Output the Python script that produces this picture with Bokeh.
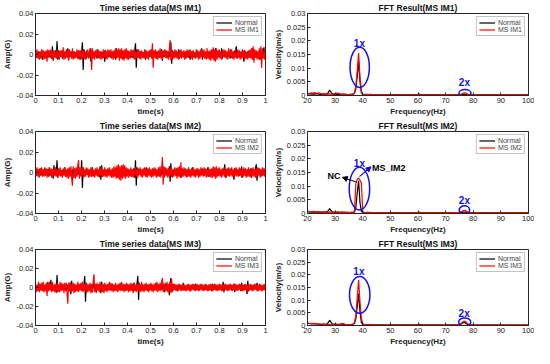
import numpy as np
from bokeh.plotting import figure
from bokeh.models import Range1d, FixedTicker, Label, Arrow, NormalHead
from bokeh.layouts import column, row
from bokeh.embed import file_html
from bokeh.resources import INLINE

# ---------------- data ----------------
# time series, 300 samples over 0..1 s (one line = 0.1 s), amplitude in mG (1e-3 G)
normal1_mg = [2,-3,1,-2,3,-2,2,-3,4,-5,3,-2,2,-3,1,-2,3,-2,2,-3,3,-4,8,-6,3,-2,4,-3,13,-5,
              4,-3,2,-2,3,-4,2,-3,2,-2,3,-2,6,-5,3,-2,2,-3,1,-2,3,-3,2,-2,3,-4,2,-3,4,-5,
              3,12,-15,5,-3,2,-4,3,-2,2,-3,6,-7,3,-2,2,-3,2,-2,3,-4,5,-3,2,-2,3,-2,2,-3,3,
              -7,4,-3,2,-2,3,-2,2,-3,2,-2,3,-3,2,-5,6,-3,2,-2,3,-2,2,-3,2,-2,3,-4,2,-3,2,
              -2,3,-2,2,-3,4,-3,2,-4,3,11,-13,5,-3,2,-2,3,-2,2,-3,2,-2,4,-5,3,-2,2,-3,2,-2,
              3,-2,2,-3,2,-2,3,-4,3,-2,2,-3,2,-2,5,-6,3,-2,2,-3,2,-2,3,-3,2,-2,12,-9,4,-3,
              2,-2,3,-2,2,-3,5,-4,2,-2,3,-2,2,-3,2,-2,3,-2,2,-3,4,-5,2,-2,3,-2,2,-3,2,-2,
              3,-2,2,-3,2,-2,6,-5,3,-2,2,-3,2,-2,3,-2,2,-3,3,-2,2,-3,2,-5,6,-3,2,-2,3,-2,
              2,-3,6,-4,2,-2,3,-2,2,-3,2,-2,3,-4,5,-3,2,-2,3,-2,2,8,-4,3,-2,2,-3,2,-2,3,
              -2,-7,4,-3,2,-2,3,-2,2,-3,2,-2,6,-5,3,-2,2,-3,2,-2,3,-5,4,-3,2,-2,3,7,-4,3]
msim1_mg = [4,-3,5,-4,2,-5,3,-4,5,-2,4,-5,3,-4,4,-7,5,-3,4,-2,5,-4,3,-5,4,-3,2,-4,5,-3,
            3,-5,4,-2,4,-3,7,-5,3,-4,5,-3,4,-6,5,-2,3,-4,6,-5,3,-4,2,-3,5,-4,4,-5,3,-4,
            5,-3,4,-4,2,-5,4,-3,5,-4,3,-2,6,-15,6,-4,3,-5,4,-2,5,-3,4,-4,3,-5,2,-4,5,-3,
            4,-4,3,-5,5,-3,4,-2,5,-4,3,-5,4,-3,6,-4,5,-3,6,-6,5,-4,6,-5,4,-6,5,-3,6,-5,
            4,-5,3,-4,5,-2,4,-3,5,-5,3,-4,4,-2,5,-4,3,-5,4,-3,2,-4,5,-3,4,-4,3,-5,4,-2,
            5,-4,11,-13,4,-3,5,-4,2,-5,4,-3,6,-4,3,-5,4,-2,5,-3,4,-4,3,-5,6,14,-6,4,-5,3,
            -4,5,-3,4,-4,2,-5,4,-3,5,-4,3,-2,4,-5,3,-4,5,-3,4,-2,5,-4,3,-5,4,-3,2,-4,5,
            -3,4,-5,3,-4,5,-2,4,-3,5,-4,3,-5,6,-4,3,-5,4,-6,5,-4,7,-6,5,-7,6,-5,4,-3,5,
            -4,3,-5,4,-2,5,-3,4,-4,3,-5,6,-3,4,-2,5,-4,3,-5,4,-3,2,-4,5,-3,4,-5,3,-4,5,
            -3,4,-5,3,-4,2,-5,4,-3,5,-4,6,-5,8,-8,5,-3,4,-5,3,-4,6,-5,8,-13,6,-4,3,-5,4]
normal2_mg = [2,-3,2,-2,3,-2,4,-3,2,-2,3,-2,2,-3,2,-2,3,-4,5,-3,2,-2,3,-6,7,-3,2,-2,12,-5,
              3,-2,2,-3,2,-2,3,-2,5,-4,2,-2,3,-2,2,-3,2,-2,3,-5,4,-2,2,-3,2,-2,3,-2,2,-3,
              12,-15,5,-3,2,-2,3,-2,2,-3,2,-2,3,-4,5,-3,2,-2,3,-2,2,-3,2,-2,6,-7,7,-4,2,-2,
              3,-2,2,-3,2,-2,3,-2,2,-3,2,-2,3,-2,2,-3,4,-5,3,-2,2,-3,2,-2,3,-2,2,-3,2,-2,
              3,-2,2,-3,2,-4,3,-2,4,-5,12,-13,5,-3,2,-2,3,-2,2,-3,2,-2,3,-2,5,-4,2,-2,3,-2,
              2,-3,2,-2,3,-2,2,-3,2,-2,3,-2,2,-3,2,-2,4,-5,3,-2,2,-3,2,-2,6,-9,9,-4,2,-2,
              3,-2,2,-3,4,-2,3,-2,2,-5,2,-2,3,-2,2,-3,2,-4,3,-2,2,-3,2,-2,5,-2,2,-3,2,-2,
              3,-2,2,-3,2,-2,3,-2,2,-3,2,-2,3,-2,5,-4,2,-2,3,-2,2,-3,2,-2,3,-2,2,-3,2,-2,
              2,-3,2,-2,3,-2,8,-5,3,-2,2,-3,2,-2,3,-2,2,-3,-7,4,2,-2,3,-2,2,-3,2,-2,6,-5,
              3,-2,2,-3,2,-2,3,-2,2,-3,4,-5,3,-2,2,-3,4,8,-8,4,2,-2,3,-2,2,-3,2,-2,3,-2]
msim2_mg = [4,-3,5,-4,3,-5,4,-2,5,-4,3,-4,5,-3,4,-5,3,-4,5,-2,4,-5,3,-4,4,-3,5,-4,3,-5,
            4,-3,5,-4,2,-5,4,-3,5,-4,3,-5,4,-6,5,-4,6,-5,-13,6,-5,4,-6,5,-4,7,12,-6,5,-4,
            5,-3,4,-5,3,-4,5,-2,4,-5,3,-4,5,-3,4,-4,2,-5,4,-3,5,-4,3,-5,4,-3,5,-4,3,-4,
            5,-4,3,-5,4,-3,5,-4,3,-5,4,-5,6,-4,5,-6,7,-5,8,-7,6,-8,7,-6,8,-5,7,-6,5,-4,
            4,-5,3,-4,5,-4,3,-5,4,-3,5,-4,3,-5,4,-2,5,-4,3,-5,4,-3,5,-4,3,-5,4,-3,5,-4,
            3,-5,4,-4,5,-3,4,-5,3,-4,5,-4,6,-5,4,15,-12,6,-4,5,-3,4,-5,4,-4,5,-3,4,-5,3,
            -4,5,-3,4,-6,5,-4,6,-5,10,-5,4,-4,5,-3,4,-5,3,-4,5,-4,3,-5,4,-3,5,-4,3,-5,4,
            -3,4,-5,3,-4,5,-3,4,-4,5,-3,4,-5,3,-4,5,-4,3,-5,4,-5,6,-4,5,-6,6,-5,4,-3,5,
            -4,3,-5,4,-3,5,-4,3,-5,4,-3,5,-4,4,-3,5,-4,3,-5,4,-3,5,-4,3,-4,5,-3,4,-5,3,
            -4,5,-3,4,-5,3,-4,5,-4,3,-5,4,-3,5,-4,3,-5,4,-4,5,-3,4,-5,3,-4,5,-3,4,-4,5]
normal3_mg = [2,-3,2,-2,3,-2,2,-3,4,-2,2,-3,2,-2,3,-5,6,-3,2,-2,8,-4,2,-3,2,-2,3,-4,13,-5,
              3,-2,2,-3,2,-2,3,-2,2,-3,2,-2,3,-4,2,-2,-7,7,-3,2,-2,3,-2,2,-3,2,-2,3,-2,2,
              -3,2,-2,3,12,-15,5,-3,2,-2,3,-2,2,-3,-5,4,2,-2,3,-2,2,-3,2,-2,3,-6,6,-3,2,-2,
              3,-2,2,-3,2,-2,3,-2,2,-3,4,-3,2,-2,3,-2,2,-3,2,-2,3,-2,2,-3,2,-2,3,-2,2,-3,
              2,-2,3,-2,2,-3,2,-4,5,-3,2,-2,4,12,-13,5,-3,2,-2,3,-2,2,-3,2,-2,3,-2,2,-3,2,
              -2,3,-2,2,-3,2,-2,3,-2,2,-3,2,-2,3,-2,2,-3,4,-5,3,-2,2,-3,2,-8,5,10,-4,2,-2,
              3,-2,2,-3,2,-4,3,-2,2,-3,2,-2,5,-3,2,-3,2,-2,3,-2,2,-4,2,-2,3,-2,2,-3,4,-2,
              3,-2,2,-3,2,-2,3,-2,2,-3,2,-2,3,-2,2,-3,2,-2,3,-4,4,-3,2,-2,3,-2,2,-3,2,-2,
              3,-2,2,-3,6,-5,3,-2,2,-3,2,-2,3,-2,2,-3,2,-2,4,-5,3,-2,2,-3,2,-2,3,-4,5,-3,
              2,-2,3,-2,2,-7,7,-4,2,-2,3,-2,2,-3,2,-2,3,-2,5,-4,2,-2,3,-2,2,-3,2,-2,3,-2]
msim3_mg = [4,-5,3,-4,6,-5,4,-3,5,-4,6,-5,3,-4,5,-9,5,-4,6,-3,4,-5,6,-4,3,-5,4,-6,5,-4,
            3,-5,6,-4,5,-3,4,-6,5,-4,5,-6,-17,5,-4,6,-5,3,-4,5,-6,4,-5,3,-4,6,-5,4,-3,5,
            -4,6,-5,4,-3,5,-6,4,-5,3,-4,5,-6,4,-5,6,14,-5,4,-6,5,-3,4,-5,6,-4,3,-5,4,-6,
            5,-4,3,-5,4,-3,6,-4,5,-3,4,-5,3,-4,5,-4,3,-5,4,-3,5,-4,6,-3,4,-5,3,-4,5,-3,
            4,-5,3,-4,5,-3,4,-6,5,-4,3,-5,4,-3,5,-4,3,-5,6,-4,3,-5,4,-3,5,-4,3,-5,4,-3,
            5,-4,3,-5,4,-3,5,-4,6,-5,4,-3,5,-4,6,10,-5,4,-3,5,-4,6,-5,4,-5,6,-6,9,-5,4,
            -3,4,-3,3,-4,3,-2,4,-3,3,-4,3,-3,4,-3,2,-4,3,-3,4,-3,3,-4,3,-2,4,-3,3,-4,3,
            -3,3,-4,3,-2,4,-3,3,-4,3,-3,4,-3,2,-4,3,-3,4,-3,3,-4,3,-2,4,-3,3,-4,3,-3,4,
            -3,3,-4,4,-3,3,-2,4,-3,3,-4,3,-3,4,-2,3,-4,3,-3,4,-3,3,-4,3,-2,4,-3,3,-4,3,
            -4,3,-3,4,-3,3,-4,2,-3,4,-3,3,-4,3,-3,4,-2,3,-4,3,-3,4,-3,3,-4,2,-3,4,-3,3]

# FFT spectra, bins every 0.5 Hz from 20 to 100 Hz, velocity in 1e-4 m/s
normal1_fft = [6,7,6,5,6,5,7,6,5,4,4,5,6,5,5,10,20,12,6,4,
               4,5,4,5,4,4,5,4,4,3,3,4,3,5,8,25,70,125,50,10,
               4,3,4,3,3,4,3,3,2,3,3,2,3,3,2,3,3,2,2,3,
               3,2,3,3,2,3,2,3,2,3,3,2,3,2,3,2,3,3,2,3,
               4,5,3,3,2,3,2,3,3,2,3,2,3,2,3,2,3,2,3,2,
               2,3,2,3,2,3,2,3,2,3,3,3,3,4,4,3,3,2,3,2,
               3,2,2,3,2,2,3,2,2,3,2,2,3,2,3,2,2,3,2,2,
               2,2,3,2,2,2,2,3,2,2,2,2,3,2,2,2,3,2,2,2,
               2]
msim1_fft = [8,6,9,10,8,11,9,7,10,8,6,5,6,5,4,5,6,4,5,6,
             7,8,9,6,5,4,5,4,4,3,3,4,4,5,10,35,90,155,70,15,
             5,4,3,4,3,3,4,3,3,2,3,3,2,3,3,2,3,2,3,2,
             2,3,2,3,2,2,3,2,3,2,2,3,2,3,2,2,3,2,2,3,
             3,2,3,2,3,2,2,3,2,3,2,2,3,2,2,3,2,3,2,2,
             2,3,2,2,3,2,3,2,3,2,3,4,6,9,10,8,4,3,2,3,
             2,2,3,2,2,3,2,2,3,2,2,3,2,2,2,3,2,2,3,2,
             2,3,2,2,2,3,2,2,2,3,2,2,2,3,2,2,2,2,3,2,
             2]
normal2_fft = [7,6,5,6,5,6,5,6,5,5,4,5,5,6,6,10,18,11,5,4,
               4,4,5,4,4,5,4,4,3,4,3,3,4,4,6,20,75,120,40,8,
               3,4,3,3,4,3,3,2,3,3,2,3,3,2,3,3,2,3,2,3,
               2,3,3,2,3,2,3,3,2,3,2,3,2,3,3,2,3,2,3,2,
               4,4,3,2,3,3,2,3,2,3,2,3,2,3,2,3,2,3,3,2,
               3,2,3,2,3,2,3,2,3,3,3,4,4,5,5,4,3,3,2,3,
               2,3,2,2,3,2,3,2,2,3,2,2,3,2,2,3,2,2,2,3,
               3,2,2,3,2,2,2,3,2,2,3,2,2,2,3,2,2,2,2,3,
               2]
msim2_fft = [9,8,7,6,7,8,6,5,7,6,5,6,5,4,5,4,6,5,4,5,
             6,5,5,4,5,4,4,5,4,4,3,4,4,4,6,110,125,130,122,112,
             6,3,3,4,3,3,4,3,2,3,3,2,3,3,2,3,2,3,2,3,
             3,2,3,2,3,2,2,3,2,3,2,2,3,2,3,2,2,3,2,2,
             3,2,3,2,2,3,2,2,3,2,3,2,2,3,2,2,3,2,2,3,
             2,3,2,3,2,2,3,2,3,3,4,5,8,11,12,9,5,3,2,3,
             2,3,2,2,3,2,2,3,2,2,3,2,2,3,2,2,3,2,2,3,
             3,2,2,3,2,2,3,2,2,2,3,2,2,3,2,2,2,3,2,2,
             2]
normal3_fft = [8,9,7,6,7,6,7,6,5,5,4,5,6,5,6,11,21,13,6,5,
               4,5,4,5,5,6,4,5,4,3,3,4,4,5,8,28,75,125,55,12,
               4,3,4,3,3,4,3,3,2,3,3,2,3,3,2,3,3,2,2,3,
               3,2,3,3,2,3,2,3,2,3,3,2,3,2,3,2,3,3,2,3,
               4,5,3,3,2,3,2,3,3,2,3,2,3,2,3,2,3,2,3,2,
               2,3,2,3,2,3,2,3,3,3,4,6,9,12,11,7,4,3,2,3,
               3,2,2,3,2,2,3,2,2,3,2,2,3,2,3,2,2,3,2,2,
               2,2,3,2,2,2,2,3,2,2,2,2,3,2,2,2,3,2,2,2,
               2]
msim3_fft = [10,9,8,9,8,9,7,8,7,6,5,6,5,4,5,4,5,4,5,6,
             6,5,5,4,6,9,7,5,4,4,3,4,5,6,12,40,110,180,95,30,
             8,4,3,4,3,3,4,3,3,2,3,3,2,3,3,2,3,2,3,2,
             2,3,2,3,2,2,3,2,3,2,2,3,2,3,2,2,3,2,2,3,
             3,2,3,2,3,2,2,3,2,3,2,2,3,2,2,3,2,3,2,2,
             2,3,2,2,3,2,3,2,3,3,4,7,12,16,17,13,7,4,2,3,
             2,2,3,2,2,3,2,2,3,2,2,3,2,2,2,3,2,2,3,2,
             2,3,2,2,2,3,2,2,2,3,2,2,2,3,2,2,2,2,3,2,
             2]

time_s = np.linspace(0, 1, len(normal1_mg))
freq_hz = np.arange(20, 100.5, 0.5)

ts_xticks = [0, 0.1, 0.2, 0.3, 0.4, 0.5, 0.6, 0.7, 0.8, 0.9, 1]
ts_xlabels = ["0", "0.1", "0.2", "0.3", "0.4", "0.5", "0.6", "0.7", "0.8", "0.9", "1"]
ts_yticks = [-0.04, -0.02, 0, 0.02, 0.04]
ts_ylabels = ["-0.04", "-0.02", "0", "0.02", "0.04"]
ff_xticks = [20, 30, 40, 50, 60, 70, 80, 90, 100]
ff_xlabels = ["20", "30", "40", "50", "60", "70", "80", "90", "100"]
ff_yticks = [0, 0.005, 0.01, 0.015, 0.02, 0.025, 0.03]
ff_ylabels = ["0", "0.005", "0.01", "0.015", "0.02", "0.025", "0.03"]

names = ["MS IM1", "MS IM2", "MS IM3"]
normal_ts = [normal1_mg, normal2_mg, normal3_mg]
fault_ts = [msim1_mg, msim2_mg, msim3_mg]
normal_ff = [normal1_fft, normal2_fft, normal3_fft]
fault_ff = [msim1_fft, msim2_fft, msim3_fft]

# annotation positions (data units): 1x ellipse, 2x ellipse, labels
ell_1x = [(38.9, 0.0103, 7.0, 0.0147), (38.8, 0.0091, 7.4, 0.0157), (38.9, 0.0121, 7.4, 0.0145)]
ell_2x = [(77.0, 0.0009, 4.4, 0.0026), (76.8, 0.0013, 3.8, 0.0030), (76.9, 0.0014, 4.4, 0.0032)]
lab_1x = [(38.8, 0.0192), (38.8, 0.0182), (38.6, 0.0212)]
lab_2x = [(76.8, 0.0046), (76.8, 0.0046), (76.7, 0.0049)]

FONT = "Liberation Sans"
AX = "#262626"
BLUE = "#1010ee"


def style(p, title, xlabel, ylabel, xt, xl, yt, yl):
    p.title.text = title
    p.title.align = "center"
    p.title.text_font = FONT
    p.title.text_font_size = "8.5px"
    p.title.text_font_style = "bold"
    p.title.text_color = "#111111"
    p.title.standoff = 1
    p.xaxis.axis_label = xlabel
    p.yaxis.axis_label = ylabel
    for ax in (p.xaxis, p.yaxis):
        ax.axis_label_text_font = FONT
        ax.axis_label_text_font_size = "8px"
        ax.axis_label_text_font_style = "bold"
        ax.axis_label_text_color = "#222222"
        ax.axis_label_standoff = 1
        ax.major_label_text_font = FONT
        ax.major_label_text_font_size = "7.5px"
        ax.major_label_text_color = "#222222"
        ax.major_label_standoff = 2
        ax.major_tick_in = 3
        ax.major_tick_out = 0
        ax.minor_tick_line_color = None
        ax.axis_line_color = AX
        ax.major_tick_line_color = AX
    p.xaxis.ticker = FixedTicker(ticks=xt)
    p.xaxis.major_label_overrides = {float(k): v for k, v in zip(xt, xl)}
    p.yaxis.ticker = FixedTicker(ticks=yt)
    p.yaxis.major_label_overrides = {float(k): v for k, v in zip(yt, yl)}
    p.xgrid.visible = False
    p.ygrid.visible = False
    p.outline_line_color = AX
    p.outline_line_alpha = 1
    p.legend.location = "top_right"
    p.legend.label_text_font = FONT
    p.legend.label_text_font_size = "7px"
    p.legend.glyph_width = 16
    p.legend.glyph_height = 7
    p.legend.label_height = 7
    p.legend.label_standoff = 3
    p.legend.spacing = 0
    p.legend.padding = 2
    p.legend.margin = 3
    p.legend.border_line_color = "#888888"


heights = [118, 118, 112]
rows = []
for k in range(3):
    h = heights[k]
    pl = figure(width=270, height=h, x_range=Range1d(0, 1), y_range=Range1d(-0.04, 0.04),
                output_backend="svg", toolbar_location=None, tools="",
                min_border_left=20, min_border_right=5, min_border_top=0, min_border_bottom=0)
    pl.line(time_s, np.array(normal_ts[k]) / 1000.0, color="black", line_width=1.2, legend_label="Normal")
    pl.line(time_s, np.array(fault_ts[k]) / 1000.0, color="#ff0000", line_width=1.2, legend_label=names[k])
    style(pl, "Time series data(%s)" % names[k], "time(s)", "Amp(G)",
          ts_xticks, ts_xlabels, ts_yticks, ts_ylabels)

    pr = figure(width=264, height=h, x_range=Range1d(20, 100), y_range=Range1d(0, 0.03),
                output_backend="svg", toolbar_location=None, tools="",
                min_border_left=22, min_border_right=6, min_border_top=0, min_border_bottom=0)
    pr.line(freq_hz, np.array(normal_ff[k]) / 10000.0, color="black", line_width=1.2, legend_label="Normal")
    pr.line(freq_hz, np.array(fault_ff[k]) / 10000.0, color="#ff0000", line_width=1.2, legend_label=names[k])
    ex, ey, ew, eh = ell_1x[k]
    pr.ellipse(x=[ex], y=[ey], width=[ew], height=[eh], fill_color=None, line_color=BLUE, line_width=1.5)
    ex, ey, ew, eh = ell_2x[k]
    pr.ellipse(x=[ex], y=[ey], width=[ew], height=[eh], fill_color=None, line_color=BLUE, line_width=1.5)
    for (lx, ly), txt in ((lab_1x[k], "1x"), (lab_2x[k], "2x")):
        pr.add_layout(Label(x=lx, y=ly, text=txt, text_color=BLUE, text_font=FONT,
                            text_font_size="10px", text_font_style="bold",
                            text_align="center", text_baseline="middle"))
    if k == 1:
        pr.add_layout(Arrow(end=NormalHead(size=5, fill_color="black", line_color="black"),
                            x_start=37.8, y_start=0.0115, x_end=32.6, y_end=0.0132,
                            line_color="black", line_width=1))
        pr.add_layout(Arrow(end=NormalHead(size=5, fill_color=BLUE, line_color=BLUE),
                            x_start=38.8, y_start=0.0135, x_end=43.0, y_end=0.0171,
                            line_color=BLUE, line_width=1.2))
        pr.add_layout(Label(x=29.6, y=0.0136, text="NC", text_color="black", text_font=FONT,
                            text_font_size="9px", text_font_style="bold",
                            text_align="center", text_baseline="middle"))
        pr.add_layout(Label(x=49.4, y=0.0166, text="MS_IM2", text_color="black", text_font=FONT,
                            text_font_size="9px", text_font_style="bold",
                            text_align="center", text_baseline="middle"))
    style(pr, "FFT Result(%s)" % names[k], "Frequency(Hz)", "Velocity(m/s)",
          ff_xticks, ff_xlabels, ff_yticks, ff_ylabels)
    rows.append(row(pl, pr))

layout = column(*rows)
open("out.html", "w").write(file_html(layout, INLINE))
